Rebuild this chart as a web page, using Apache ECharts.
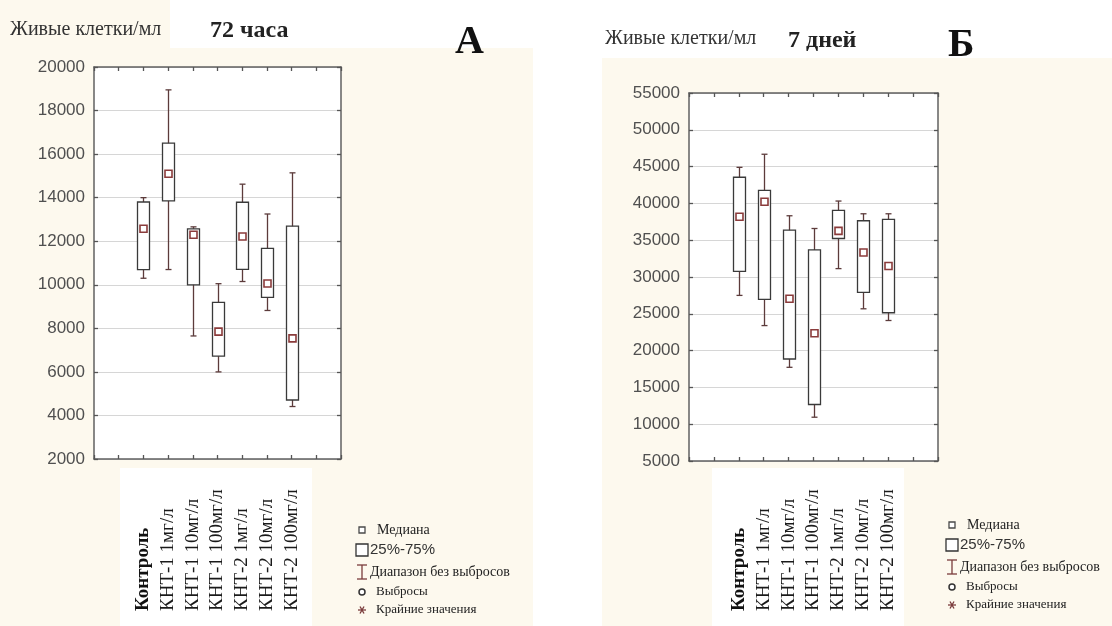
<!DOCTYPE html>
<html>
<head>
<meta charset="utf-8">
<script src="https://cdn.jsdelivr.net/npm/echarts@6/dist/echarts.min.js"></script>
<style>
    html, body {margin: 0; padding: 0; background: #fff;}
    #wrap {position: relative; width: 1112px; height: 626px; overflow: hidden;}
    .bg {position: absolute; background: #fdf9ee;}
    #chart {position: absolute; left: 0; top: 0; width: 1112px; height: 626px;}
</style>
</head>
<body>
<div id="wrap">
    <div class="bg" style="left:0;top:0;width:170px;height:50px"></div>
    <div class="bg" style="left:0;top:48px;width:533px;height:578px"></div>
    <div class="bg" style="left:602px;top:58px;width:510px;height:568px"></div>
    <div class="bg" style="left:120px;top:468px;width:192px;height:158px;background:#fff"></div>
    <div class="bg" style="left:712px;top:468px;width:192px;height:158px;background:#fff"></div>
    <div id="chart"></div>
</div>
<script>
// группы (одинаковые на обоих графиках)
var groups = ['Контроль', 'КНТ-1 1мг/л', 'КНТ-1 10мг/л', 'КНТ-1 100мг/л', 'КНТ-2 1мг/л', 'КНТ-2 10мг/л', 'КНТ-2 100мг/л'];

// А: 72 часа
var yTicksA = [2000, 4000, 6000, 8000, 10000, 12000, 14000, 16000, 18000, 20000];
var minA = [10300, 10700, 7650, 6000, 10150, 8820, 4410];
var q1A  = [10700, 13850, 10000, 6720, 10710, 9420, 4710];
var medA = [12570, 15100, 12300, 7850, 12220, 10060, 7540];
var q3A  = [13800, 16500, 12570, 9190, 13790, 11670, 12690];
var maxA = [14000, 18950, 12660, 10050, 14620, 13250, 15140];

// Б: 7 дней
var yTicksB = [5000, 10000, 15000, 20000, 25000, 30000, 35000, 40000, 45000, 50000, 55000];
var minB = [27500, 23400, 17730, 10950, 31140, 25680, 24090];
var q1B  = [30770, 26950, 18860, 12680, 35230, 27910, 25140];
var medB = [38180, 40230, 27050, 22360, 36270, 33320, 31500];
var q3B  = [43550, 41770, 36360, 33680, 39050, 37640, 37820];
var maxB = [44900, 46680, 38320, 36590, 40320, 38590, 38590];

var legendNames = ['Медиана', '25%-75%', 'Диапазон без выбросов', 'Выбросы', 'Крайние значения'];

var serif = '"Liberation Serif", "Times New Roman", serif';
var sans = '"Liberation Sans", Arial, sans-serif';
var firstSlot = 2; // ящики стоят на делениях 2..8 шкалы 0..10

function buildData(mins, q1, med, q3, maxs) {
    var list = [];
    for (var i = 0; i < groups.length; i++) {
        list.push([i + firstSlot, mins[i], q1[i], med[i], q3[i], maxs[i]]);
    }
    return list;
}

function renderBox(params, api) {
    var x = api.value(0);
    var pMin = api.coord([x, api.value(1)]);
    var pQ1 = api.coord([x, api.value(2)]);
    var pMed = api.coord([x, api.value(3)]);
    var pQ3 = api.coord([x, api.value(4)]);
    var pMax = api.coord([x, api.value(5)]);
    var cx = Math.round(pMin[0]) + 0.5;
    var bw = 12, cw = 6, ms = 7;
    var whisker = {stroke: '#5c3b3b', lineWidth: 1.3};
    return {
        type: 'group',
        children: [
            {type: 'line', shape: {x1: cx, y1: pMax[1], x2: cx, y2: pMin[1]}, style: whisker},
            {type: 'line', shape: {x1: cx - cw / 2, y1: pMax[1], x2: cx + cw / 2, y2: pMax[1]}, style: whisker},
            {type: 'line', shape: {x1: cx - cw / 2, y1: pMin[1], x2: cx + cw / 2, y2: pMin[1]}, style: whisker},
            {
                type: 'rect',
                shape: {x: cx - bw / 2, y: pQ3[1], width: bw, height: pQ1[1] - pQ3[1]},
                style: {fill: '#fff', stroke: '#3a3a3a', lineWidth: 1.3}
            },
            {
                type: 'rect',
                shape: {x: cx - ms / 2, y: pMed[1] - ms / 2, width: ms, height: ms},
                style: {fill: '#fff', stroke: '#8a3b3b', lineWidth: 1.6}
            }
        ]
    };
}

function catLabel(v) {
    var i = v - firstSlot;
    if (i < 0 || i >= groups.length) return '';
    return i === 0 ? '{b|' + groups[i] + '}' : groups[i];
}

function tickStyle() {
    return {show: true, inside: true, length: 4, lineStyle: {color: '#555', width: 1.3}};
}

function frameLine() {
    return {show: true, onZero: false, lineStyle: {color: '#606060', width: 1.5}};
}

function xAxes(gridIndex, margin) {
    return [{
        type: 'value', gridIndex: gridIndex, position: 'bottom', min: 0, max: 10, interval: 1,
        axisLine: frameLine(),
        axisTick: tickStyle(),
        splitLine: {show: false},
        axisLabel: {
            formatter: catLabel, rotate: 90, align: 'left', verticalAlign: 'middle', margin: margin,
            fontFamily: serif, fontSize: 19, color: '#1a1a1a',
            rich: {b: {fontFamily: serif, fontSize: 19, fontWeight: 'bold', color: '#111'}}
        }
    }, {
        type: 'value', gridIndex: gridIndex, position: 'top', min: 0, max: 10, interval: 1,
        axisLine: frameLine(),
        axisTick: tickStyle(),
        splitLine: {show: false},
        axisLabel: {show: false}
    }];
}

function yAxes(gridIndex, ticks) {
    var lo = ticks[0], hi = ticks[ticks.length - 1], step = ticks[1] - ticks[0];
    return [{
        type: 'value', gridIndex: gridIndex, position: 'left',
        min: lo, max: hi, interval: step,
        axisLine: frameLine(),
        axisTick: tickStyle(),
        splitLine: {show: true, lineStyle: {color: '#d6d6d6', width: 1}},
        axisLabel: {
            margin: 9, fontFamily: sans, fontSize: 17, color: '#505050',
            formatter: function (v) { return String(v); }
        }
    }, {
        type: 'value', gridIndex: gridIndex, position: 'right',
        min: lo, max: hi, interval: step,
        axisLine: frameLine(),
        axisTick: tickStyle(),
        splitLine: {show: false},
        axisLabel: {show: false}
    }];
}

// легенда в стиле Statistica
function legendGraphic(dx, dy) {
    var stroke = '#4a4a4a', brown = '#7a3b3b';
    var ts = {fontFamily: serif, fontSize: 13, fill: '#222', verticalAlign: 'middle'};
    return {
        type: 'group', x: dx, y: dy, silent: true,
        children: [
            {type: 'rect', shape: {x: 359, y: 527, width: 6, height: 6}, style: {fill: '#fff', stroke: stroke, lineWidth: 1.3}},
            {type: 'text', x: 377, y: 530, style: Object.assign({text: legendNames[0]}, ts, {fontSize: 14})},
            {type: 'rect', shape: {x: 356, y: 544, width: 12, height: 12}, style: {fill: '#fff', stroke: '#333', lineWidth: 1.3}},
            {type: 'text', x: 370, y: 550, style: {text: legendNames[1], fontFamily: sans, fontSize: 15, fill: '#333', verticalAlign: 'middle'}},
            {type: 'line', shape: {x1: 362, y1: 565, x2: 362, y2: 579}, style: {stroke: brown, lineWidth: 1.3}},
            {type: 'line', shape: {x1: 357, y1: 565, x2: 367, y2: 565}, style: {stroke: brown, lineWidth: 1.3}},
            {type: 'line', shape: {x1: 357, y1: 579, x2: 367, y2: 579}, style: {stroke: brown, lineWidth: 1.3}},
            {type: 'text', x: 370, y: 572, style: Object.assign({text: legendNames[2]}, ts, {fontSize: 14})},
            {type: 'circle', shape: {cx: 362, cy: 592, r: 3}, style: {fill: '#fff', stroke: '#333', lineWidth: 1.5}},
            {type: 'text', x: 376, y: 592, style: Object.assign({text: legendNames[3]}, ts)},
            {type: 'line', shape: {x1: 358, y1: 610, x2: 366, y2: 610}, style: {stroke: brown, lineWidth: 1.3}},
            {type: 'line', shape: {x1: 360, y1: 606.5, x2: 364, y2: 613.5}, style: {stroke: brown, lineWidth: 1.3}},
            {type: 'line', shape: {x1: 364, y1: 606.5, x2: 360, y2: 613.5}, style: {stroke: brown, lineWidth: 1.3}},
            {type: 'text', x: 376, y: 610, style: Object.assign({text: legendNames[4]}, ts)}
        ]
    };
}

var myChart = echarts.init(document.getElementById('chart'));

var option = {
    animation: false,
    title: [
        {text: 'Живые клетки/мл', left: 10, top: 20, padding: 0, textStyle: {fontFamily: serif, fontSize: 20, fontWeight: 'normal', color: '#333'}},
        {text: '72 часа', left: 210, top: 19, padding: 0, textStyle: {fontFamily: serif, fontSize: 24, fontWeight: 'bold', color: '#222'}},
        {text: 'А', left: 455, top: 23, padding: 0, textStyle: {fontFamily: serif, fontSize: 40, fontWeight: 'bold', color: '#111'}},
        {text: 'Живые клетки/мл', left: 605, top: 29, padding: 0, textStyle: {fontFamily: serif, fontSize: 20, fontWeight: 'normal', color: '#333'}},
        {text: '7 дней', left: 788, top: 29, padding: 0, textStyle: {fontFamily: serif, fontSize: 24, fontWeight: 'bold', color: '#222'}},
        {text: 'Б', left: 948, top: 26, padding: 0, textStyle: {fontFamily: serif, fontSize: 40, fontWeight: 'bold', color: '#111'}}
    ],
    grid: [
        {left: 94, top: 67, width: 247, height: 392, show: true, backgroundColor: '#fff', borderWidth: 0},
        {left: 689, top: 93, width: 249, height: 368, show: true, backgroundColor: '#fff', borderWidth: 0}
    ],
    xAxis: xAxes(0, 152).concat(xAxes(1, 150)),
    yAxis: yAxes(0, yTicksA).concat(yAxes(1, yTicksB)),
    series: [{
        name: '72 часа',
        type: 'custom',
        xAxisIndex: 0,
        yAxisIndex: 0,
        renderItem: renderBox,
        encode: {x: 0, y: [1, 2, 3, 4, 5]},
        data: buildData(minA, q1A, medA, q3A, maxA),
        z: 5
    }, {
        name: '7 дней',
        type: 'custom',
        xAxisIndex: 2,
        yAxisIndex: 2,
        renderItem: renderBox,
        encode: {x: 0, y: [1, 2, 3, 4, 5]},
        data: buildData(minB, q1B, medB, q3B, maxB),
        z: 5
    }],
    graphic: [legendGraphic(0, 0), legendGraphic(590, -5)]
};

myChart.setOption(option);
</script>
</body>
</html>
